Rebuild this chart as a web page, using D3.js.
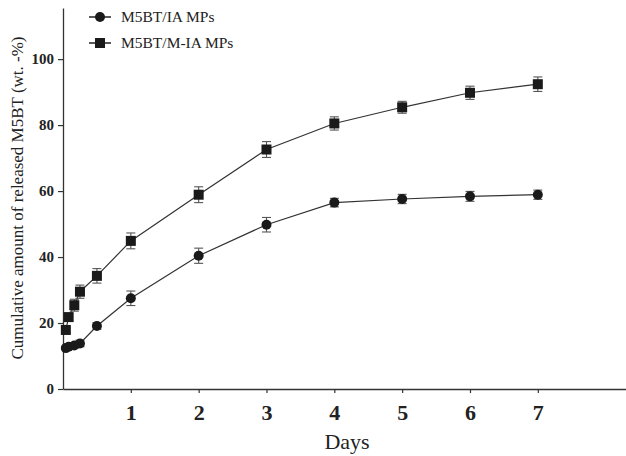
<!DOCTYPE html>
<html>
<head>
<meta charset="utf-8">
<script src="https://cdn.jsdelivr.net/npm/d3@7"></script>
<style>
  body { margin: 0; background: #fff; }
  svg { display: block; font-family: "Liberation Serif", "Times New Roman", serif; }
</style>
</head>
<body>
<svg id="chart" width="626" height="456"></svg>
<script>
// ---- DATA ----
const times = [1/24, 2/24, 4/24, 6/24, 0.5, 1, 2, 3, 4, 5, 6, 7];
const iaValues = [12.4, 12.8, 13.2, 13.8, 19.1, 27.5, 40.4, 49.8, 56.5, 57.6, 58.4, 58.9];
const iaErrors = [0.5, 0.6, 0.8, 1.0, 1.0, 2.2, 2.3, 2.2, 1.3, 1.4, 1.5, 1.4];
const miaValues = [17.9, 21.8, 25.4, 29.5, 34.3, 44.9, 58.9, 72.6, 80.5, 85.4, 89.8, 92.4];
const miaErrors = [0.8, 1.0, 1.8, 2.0, 2.2, 2.4, 2.4, 2.4, 2.0, 1.8, 2.0, 2.2];
const xTicks = [1, 2, 3, 4, 5, 6, 7];
const yTicks = [0, 20, 40, 60, 80, 100];
const seriesNames = ["M5BT/IA MPs", "M5BT/M-IA MPs"];

const svg = d3.select("#chart");

const x = d3.scaleLinear().domain([0, 8.3]).range([63, 626]);
const y = d3.scaleLinear().domain([0, 115.5]).range([389, 8]);

const axisColor = "#333";
const markColor = "#1a1a1a";
const serif = "Liberation Serif, Times New Roman, serif";

// ---- AXES ----
const yAxis = svg.append("g")
  .attr("transform", `translate(${x(0)},0)`)
  .call(d3.axisLeft(y).tickValues(yTicks).tickSize(5).tickPadding(4).tickSizeOuter(0));
yAxis.select(".domain").attr("stroke", axisColor).attr("stroke-width", 1.3);
yAxis.selectAll(".tick line").attr("stroke", axisColor).attr("stroke-width", 1.2);
yAxis.selectAll(".tick text")
  .attr("font-family", serif)
  .attr("font-weight", "bold")
  .attr("font-size", 15)
  .attr("fill", "#222");

const xAxis = svg.append("g")
  .attr("transform", `translate(0,${y(0)})`)
  .call(d3.axisBottom(x).tickValues(xTicks).tickSize(4).tickPadding(0).tickSizeOuter(0));
xAxis.select(".domain").attr("stroke", axisColor).attr("stroke-width", 1.3);
xAxis.selectAll(".tick line").attr("stroke", axisColor).attr("stroke-width", 1.2);
xAxis.selectAll(".tick text")
  .attr("font-family", serif)
  .attr("font-weight", "bold")
  .attr("font-size", 22)
  .attr("fill", "#222")
  .attr("dy", null)
  .attr("y", 31);

// axis titles
svg.append("text")
  .attr("x", 347)
  .attr("y", 449)
  .attr("text-anchor", "middle")
  .attr("font-size", 22)
  .attr("fill", "#222")
  .text("Days");

svg.append("text")
  .attr("transform", "translate(23,198) rotate(-90)")
  .attr("text-anchor", "middle")
  .attr("font-size", 17)
  .attr("fill", "#222")
  .text("Cumulative amount of released M5BT (wt. -%)");

// ---- SERIES ----
const series = [
  { name: seriesNames[0], values: iaValues, errors: iaErrors, shape: "circle" },
  { name: seriesNames[1], values: miaValues, errors: miaErrors, shape: "square" }
];

const line = d3.line().x(d => x(d.t)).y(d => y(d.v));

function drawMarker(g, shape, cx, cy) {
  if (shape === "circle") {
    g.append("circle").attr("cx", cx).attr("cy", cy).attr("r", 5).attr("fill", markColor);
  } else {
    g.append("rect").attr("x", cx - 5).attr("y", cy - 5).attr("width", 10).attr("height", 10).attr("fill", markColor);
  }
}

series.forEach(s => {
  const pts = times.map((t, i) => ({ t, v: s.values[i], e: s.errors[i] }));
  const g = svg.append("g");

  g.append("path")
    .datum(pts)
    .attr("d", line)
    .attr("fill", "none")
    .attr("stroke", "#333")
    .attr("stroke-width", 1.2);

  // error bars
  pts.forEach(p => {
    const cx = x(p.t);
    const eg = g.append("g").attr("stroke", "#555").attr("stroke-width", 1.1);
    eg.append("line").attr("x1", cx).attr("x2", cx).attr("y1", y(p.v + p.e)).attr("y2", y(p.v - p.e));
    eg.append("line").attr("x1", cx - 4.5).attr("x2", cx + 4.5).attr("y1", y(p.v + p.e)).attr("y2", y(p.v + p.e));
    eg.append("line").attr("x1", cx - 4.5).attr("x2", cx + 4.5).attr("y1", y(p.v - p.e)).attr("y2", y(p.v - p.e));
  });

  pts.forEach(p => drawMarker(g, s.shape, x(p.t), y(p.v)));
});

// ---- LEGEND ----
const legend = svg.append("g");
series.forEach((s, i) => {
  const ly = 17 + i * 26;
  legend.append("line")
    .attr("x1", 89).attr("x2", 111).attr("y1", ly).attr("y2", ly)
    .attr("stroke", "#222").attr("stroke-width", 1.5);
  drawMarker(legend, s.shape, 100, ly);
  legend.append("text")
    .attr("x", 121)
    .attr("y", ly + 5)
    .attr("font-size", 15.5)
    .attr("fill", "#222")
    .text(s.name);
});
</script>
</body>
</html>
